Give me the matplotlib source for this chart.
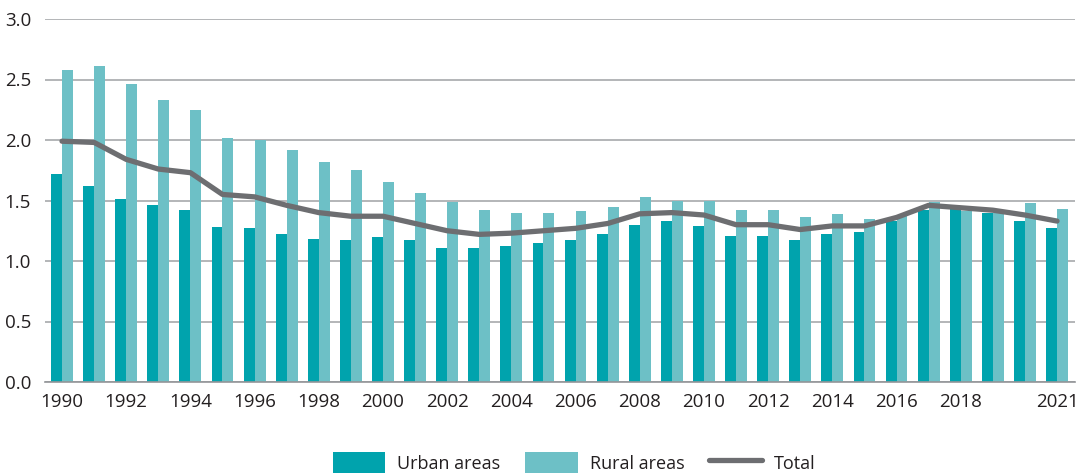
import numpy as np
import matplotlib
matplotlib.use('Agg')
import matplotlib.pyplot as plt

years = list(range(1990, 2022))
urban = [1.72, 1.62, 1.51, 1.46, 1.42, 1.28, 1.27, 1.22, 1.18, 1.17, 1.20,
         1.17, 1.11, 1.11, 1.12, 1.15, 1.17, 1.22, 1.30, 1.33, 1.29, 1.21,
         1.21, 1.17, 1.22, 1.24, 1.33, 1.42, 1.43, 1.40, 1.33, 1.27]
rural = [2.58, 2.61, 2.46, 2.33, 2.25, 2.02, 2.00, 1.92, 1.82, 1.75, 1.65,
         1.56, 1.49, 1.42, 1.40, 1.40, 1.41, 1.45, 1.53, 1.50, 1.50, 1.42,
         1.42, 1.36, 1.39, 1.35, 1.38, 1.49, 1.41, 1.40, 1.48, 1.43]
total = [1.99, 1.98, 1.84, 1.76, 1.73, 1.55, 1.53, 1.46, 1.40, 1.37, 1.37,
         1.31, 1.25, 1.22, 1.23, 1.25, 1.27, 1.31, 1.39, 1.40, 1.38, 1.30,
         1.30, 1.26, 1.29, 1.29, 1.36, 1.46, 1.44, 1.42, 1.38, 1.33]
tick_years = [1990, 1992, 1994, 1996, 1998, 2000, 2002, 2004, 2006, 2008,
              2010, 2012, 2014, 2016, 2018, 2021]

c_urban = '#00A3AD'
c_rural = '#6DC0C6'
c_total = '#6D6E71'
txt = '#231F20'

plt.rcParams['font.family'] = ['Open Sans', 'DejaVu Sans']

fig = plt.figure(figsize=(10.79, 4.75), dpi=100)
ax = fig.add_axes([45/1079, 1-382/475, 1030/1079, 363/475])

x = np.array(years)
w = 0.34
b1 = ax.bar(x - w/2, urban, width=w, color=c_urban, label='Urban areas', zorder=2)
b2 = ax.bar(x + w/2, rural, width=w, color=c_rural, label='Rural areas', zorder=2)
l1, = ax.plot(x, total, color=c_total, lw=3.8, solid_capstyle='round',
              solid_joinstyle='round', label='Total', zorder=3)

ax.set_ylim(0, 3.0)
ax.set_xlim(1990 - 0.53, 2021 + 0.56)
ax.set_yticks(np.arange(0, 3.01, 0.5))
ax.set_yticklabels([f'{v:.1f}' for v in np.arange(0, 3.01, 0.5)])
ax.set_xticks(tick_years)
ax.set_xticklabels([str(t) for t in tick_years])
ax.yaxis.grid(True, color='#A7A9AC', lw=1.2, zorder=0)
ax.set_axisbelow(True)
for s in ['top', 'right', 'left']:
    ax.spines[s].set_visible(False)
ax.spines['bottom'].set_color('#939598')
ax.spines['bottom'].set_linewidth(1.2)
ax.tick_params(axis='both', length=0, labelsize=13.5, colors=txt)
ax.tick_params(axis='y', pad=10)
ax.tick_params(axis='x', pad=8)

fig.legend([b1, b2, l1], ['Urban areas', 'Rural areas', 'Total'],
           loc='lower center', bbox_to_anchor=(0.532, -0.03), ncol=3,
           frameon=False, fontsize=13, handlelength=2.9, handleheight=1.4,
           columnspacing=1.4, handletextpad=0.65, labelcolor=txt)

fig.savefig('out.png', dpi=100)
